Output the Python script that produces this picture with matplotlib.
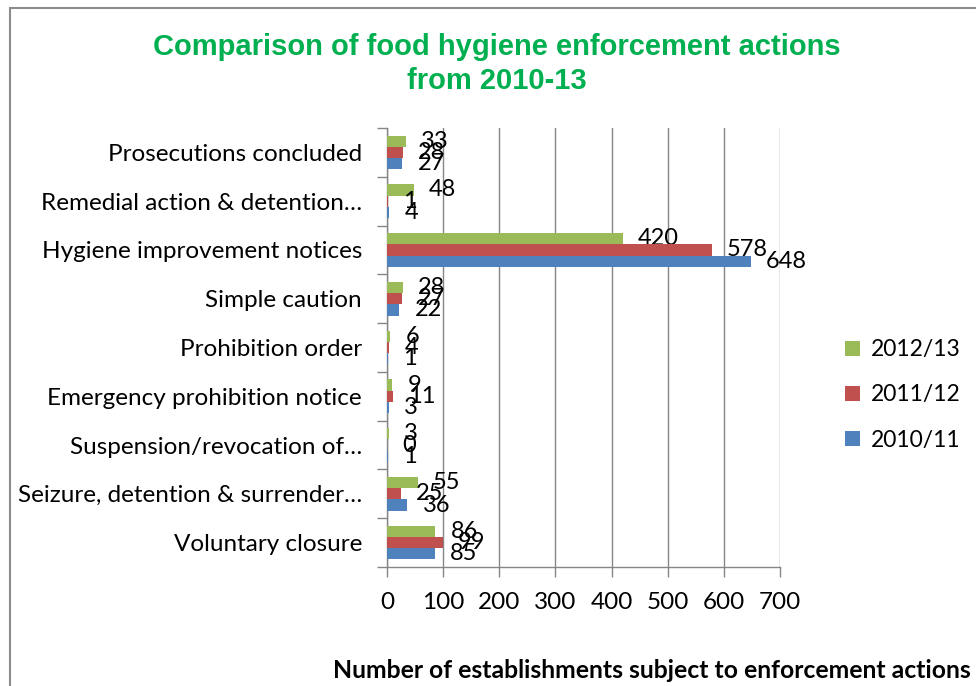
import matplotlib.pyplot as plt
import matplotlib.patches as patches
import numpy as np

categories = ["Prosecutions concluded", "Remedial action & detention…",
              "Hygiene improvement notices", "Simple caution", "Prohibition order",
              "Emergency prohibition notice", "Suspension/revocation of…",
              "Seizure, detention & surrender…", "Voluntary closure"]
series_names = ["2012/13", "2011/12", "2010/11"]
vals_2012_13 = [33, 48, 420, 28, 6, 9, 3, 55, 86]
vals_2011_12 = [28, 1, 578, 27, 4, 11, 0, 25, 99]
vals_2010_11 = [27, 4, 648, 22, 1, 3, 1, 36, 85]
colors = ["#9BBB59", "#C0504D", "#4F81BD"]
xticks = [0, 100, 200, 300, 400, 500, 600, 700]

plt.rcParams['font.family'] = ['Lato', 'DejaVu Sans']
fs = 17.5
grid_col = "#868686"

fig = plt.figure(figsize=(9.76, 6.86), dpi=100)
ax = fig.add_axes([387/976, 1-567/686, (780-387)/976, (567-128)/686])

y = np.arange(len(categories))
h = 0.23
all_vals = [vals_2012_13, vals_2011_12, vals_2010_11]
for i, (vals, name, c) in enumerate(zip(all_vals, series_names, colors)):
    bars = ax.barh(y + (i - 1) * h, vals, height=h, color=c, label=name, zorder=3)
    ax.bar_label(bars, padding=11, fontsize=17, color="black")

ax.set_ylim(len(categories) - 0.5, -0.5)
ax.set_xlim(0, 700)
ax.set_xticks(xticks)
ax.set_xticklabels([str(t) for t in xticks], fontsize=fs)
ax.set_yticks(y)
ax.set_yticklabels(categories, fontsize=fs)
ax.set_yticks(np.arange(len(categories) + 1) - 0.5, minor=True)
ax.tick_params(axis='y', which='major', length=0, pad=18)
ax.tick_params(axis='y', which='minor', length=7, color=grid_col, width=1)
ax.tick_params(axis='x', length=7, color=grid_col, width=1, pad=11)
ax.xaxis.grid(True, color=grid_col, linewidth=1, zorder=0)
ax.set_axisbelow(True)
for s in ['top', 'right']:
    ax.spines[s].set_visible(False)
for s in ['left', 'bottom']:
    ax.spines[s].set_color(grid_col)
    ax.spines[s].set_linewidth(1)

fig.text(497/976, 1-64/686, "Comparison of food hygiene enforcement actions\nfrom 2010-13",
         ha='center', va='center', fontsize=21, fontweight='bold', color="#00B050",
         family='Liberation Sans', linespacing=1.3)
fig.text(652/976, 1-670/686, "Number of establishments subject to enforcement actions",
         ha='center', va='center', fontsize=17.8, fontweight='bold')

handles, labels = ax.get_legend_handles_labels()
fig.legend(handles, labels, loc='center left', bbox_to_anchor=(845/976, 1-395/686),
           frameon=False, fontsize=16.5, handlelength=0.65, handleheight=0.65,
           handletextpad=0.5, labelspacing=1.05, borderpad=0, borderaxespad=0)

fig.patches.append(patches.Rectangle((10/976, -0.1), 1.2, 0.1 + 1 - 8/686,
                                     transform=fig.transFigure, fill=False,
                                     edgecolor="#8C8C8C", linewidth=1.5))

fig.savefig("out.png", dpi=100)
